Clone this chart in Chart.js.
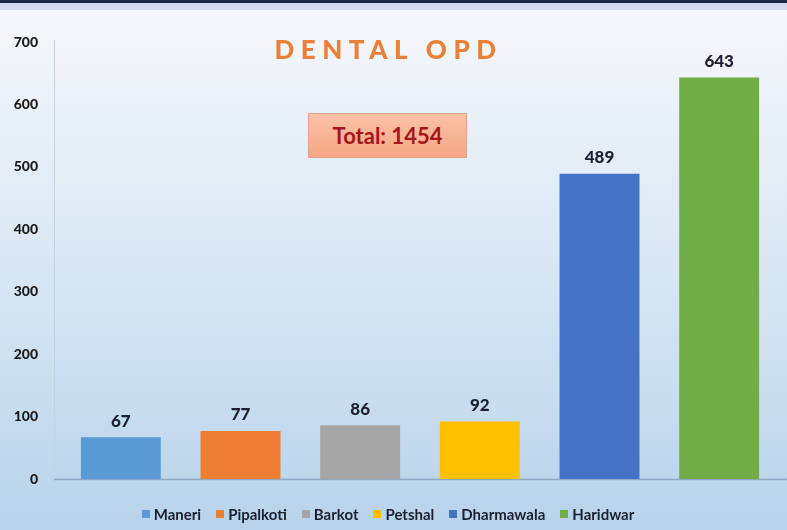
<!DOCTYPE html>
<html>
<head>
<meta charset="utf-8">
<script src="https://cdn.jsdelivr.net/npm/chart.js@4.4.0/dist/chart.umd.min.js"></script>
<style>
  html, body { margin: 0; padding: 0; }
  body { width: 787px; height: 530px; overflow: hidden; font-family: Lato, "Open Sans", sans-serif; }
  #wrap {
    position: relative; width: 787px; height: 530px;
    background: linear-gradient(to bottom, #1f2545 0px, #1f2545 3px, #d2d6ee 3px, #d6dcf0 10px, #f5f8fc 10px, #edf3f9 15%, #d6e5f3 55%, #b7d3eb 100%);
  }
  #chart { position: absolute; left: 0; top: 0; }
  #title {
    position: absolute; left: 0; width: 787px; top: 33px; text-align: center;
    font: 900 26px Lato, sans-serif; letter-spacing: 6.5px; color: #e8803a;
    padding-right: 10px; box-sizing: border-box;
  }
  #total {
    position: absolute; left: 308px; top: 113px; width: 159px; height: 45px;
    box-sizing: border-box; border: 1px solid #e6a088;
    background: linear-gradient(to bottom, #fbc2a6, #f6a686);
    color: #a3161a; font: 700 22px Lato, sans-serif;
    display: flex; align-items: center; justify-content: center;
  }
  #legend {
    position: absolute; left: 0; top: 505px; width: 787px;
    display: flex; justify-content: center; gap: 15px;
    font: 700 15px Lato, sans-serif; color: #1c1f2e;
    padding-right: 11px; box-sizing: border-box;
  }
  #legend span.item { display: flex; align-items: center; }
  #legend i { display: inline-block; width: 8px; height: 8px; margin-right: 4px; }
</style>
</head>
<body>
<div id="wrap">
  <canvas id="chart" width="787" height="530"></canvas>
  <div id="title">DENTAL OPD</div>
  <div id="total">Total: 1454</div>
  <div id="legend"></div>
</div>
<script>
// data
var categories = ["Maneri", "Pipalkoti", "Barkot", "Petshal", "Dharmawala", "Haridwar"];
var opdValues = [67, 77, 86, 92, 489, 643];
var barColors = ["#5b9bd5", "#ed7d31", "#a5a5a5", "#ffc000", "#4472c4", "#70ad47"];
var yTicks = [0, 100, 200, 300, 400, 500, 600, 700];

// value labels above the bars
var valueLabels = {
  id: "valueLabels",
  afterDatasetsDraw: function (chart) {
    var ctx = chart.ctx;
    var meta = chart.getDatasetMeta(0);
    ctx.save();
    ctx.font = "900 17px Lato, sans-serif";
    ctx.fillStyle = "#1c1f2e";
    ctx.textAlign = "center";
    ctx.textBaseline = "middle";
    meta.data.forEach(function (bar, i) {
      ctx.fillText(String(opdValues[i]), bar.x, bar.y - 16);
    });
    ctx.restore();
  }
};

// axis lines (excel style, y line sits a bit left of the plot)
var axisLines = {
  id: "axisLines",
  beforeDatasetsDraw: function (chart) {
    var ctx = chart.ctx;
    var a = chart.chartArea;
    ctx.save();
    ctx.strokeStyle = "#c6d2de";
    ctx.lineWidth = 1;
    ctx.beginPath();
    ctx.moveTo(a.left - 6.5, a.top - 2);
    ctx.lineTo(a.left - 6.5, a.bottom);
    ctx.stroke();
    ctx.strokeStyle = "#8ea8c4";
    ctx.lineWidth = 1.5;
    ctx.beginPath();
    ctx.moveTo(a.left - 7, a.bottom + 0.5);
    ctx.lineTo(chart.width, a.bottom + 0.5);
    ctx.stroke();
    ctx.restore();
  }
};

var ctx1 = document.getElementById("chart").getContext("2d");
var myChart = new Chart(ctx1, {
  type: "bar",
  data: {
    labels: categories,
    datasets: [
      {
        label: "Dental OPD",
        data: opdValues,
        backgroundColor: barColors,
        borderWidth: 0,
        categoryPercentage: 1,
        barPercentage: 0.668
      }
    ]
  },
  options: {
    responsive: false,
    animation: false,
    layout: { padding: { left: 0, top: 42, right: 8, bottom: 51 } },
    plugins: {
      legend: { display: false },
      tooltip: { enabled: false }
    },
    scales: {
      x: {
        grid: { display: false, drawTicks: false },
        border: { display: false },
        ticks: { display: false }
      },
      y: {
        min: 0,
        max: 700,
        afterBuildTicks: function (scale) {
          scale.ticks = yTicks.map(function (v) { return { value: v }; });
        },
        afterFit: function (scale) { scale.width = 61; },
        grid: { display: false, drawTicks: false },
        border: { display: false },
        ticks: {
          padding: 23,
          color: "#1a1a1a",
          font: { family: "Lato", weight: "900", size: 14 }
        }
      }
    }
  },
  plugins: [axisLines, valueLabels]
});

// legend
var legendBox = document.getElementById("legend");
categories.forEach(function (name, i) {
  var item = document.createElement("span");
  item.className = "item";
  var icon = document.createElement("i");
  icon.style.background = barColors[i];
  item.appendChild(icon);
  var label = document.createElement("span");
  label.textContent = name;
  item.appendChild(label);
  legendBox.appendChild(item);
});
</script>
</body>
</html>
